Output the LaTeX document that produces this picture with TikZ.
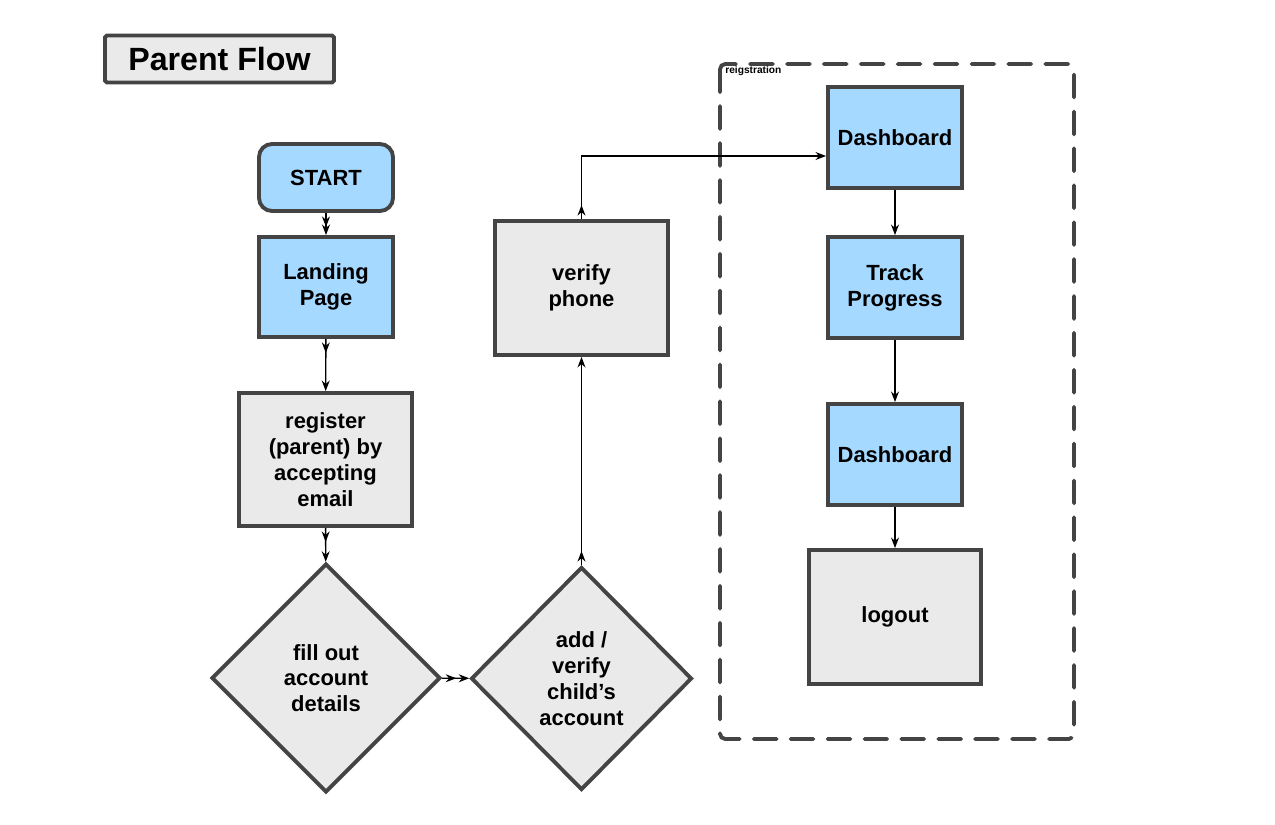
\documentclass[tikz,border=0pt]{standalone}
\usepackage{fontspec}
\setmainfont{Liberation Sans}
\usetikzlibrary{shapes.geometric,arrows.meta,decorations.markings}
\definecolor{boxblue}{HTML}{A6D9FF}
\definecolor{boxgray}{HTML}{EAEAEA}
\definecolor{edge}{HTML}{444444}
\begin{document}
\begin{tikzpicture}[x=0.02cm, y=-0.02cm]
% Styles
\tikzset{
  screen/.style={rectangle, draw=edge, line width=2.2pt, fill=boxblue, minimum width=2.68cm, minimum height=2.02cm, align=center, font=\bfseries\fontsize{12.5}{14.7}\selectfont},
  action/.style={rectangle, draw=edge, line width=2.2pt, fill=boxgray, minimum width=3.46cm, minimum height=2.68cm, align=center, font=\bfseries\fontsize{12.5}{14.7}\selectfont},
  choice/.style={diamond, draw=edge, line width=2.2pt, fill=boxgray, inner sep=0pt, minimum width=4.5cm, minimum height=4.5cm, align=center, font=\bfseries\fontsize{12.5}{14.7}\selectfont},
  arr/.style={-{Stealth[length=6pt,width=4.5pt]}, line width=0.8pt},
  dblarr/.style={arr, postaction={decorate}, decoration={markings, mark=at position 8pt with {\arrow{Stealth[length=6pt,width=4.5pt]}}}}
}
\useasboundingbox (0,0) rectangle (1275,825);

% Title
\node[rectangle, draw=edge, line width=2.2pt, fill=boxgray, rounded corners=1pt, minimum width=4.58cm, minimum height=0.94cm, font=\bfseries\fontsize{18.3}{20}\selectfont] (title) at (219.5,59) {Parent Flow};

% Registration group
\draw[edge, line width=2.2pt, dash pattern=on 13pt off 8pt, line cap=round, rounded corners=3pt] (720,64) rectangle (1074,739);
\node[anchor=north west, inner sep=0pt, font=\bfseries\fontsize{5.8}{7}\selectfont] (group) at (725,66) {reigstration};

% Left column
\node[screen, rounded corners=0.26cm, minimum height=1.34cm] (start) at (326,177.5) {START};
\node[screen, minimum height=2.0cm] (landing) at (326,287) {Landing\\Page};
\node[action, minimum height=2.66cm] (register) at (325.5,459.5) {register\\(parent) by\\accepting\\email};
\node[choice, minimum width=4.58cm, minimum height=4.58cm] (fill) at (326,678) {fill out\\account\\details};

% Middle column
\node[choice, minimum width=4.42cm, minimum height=4.46cm] (child) at (581.5,678.5) {add /\\verify\\child's\\account};
\node[action] (verify) at (581.5,288) {verify\\phone};

% Right column
\node[screen] (dash1) at (895,137.5) {Dashboard};
\node[screen] (track) at (895,287.5) {Track\\Progress};
\node[screen] (dash2) at (895,454.5) {Dashboard};
\node[action, minimum width=3.44cm] (logout) at (895,617) {logout};

% Connections
\draw[dblarr] (start) -- (landing);
\draw[dblarr] (landing) -- (register);
\draw[dblarr] (register) -- (fill);
\draw[dblarr] (fill) -- (child);
\draw[dblarr] (child) -- (verify);
\coordinate (bend) at (581.5,156);
\draw[dblarr] (verify.north) -- (bend) -- (bend -| dash1.west);

\draw[arr] (dash1) -- (track);
\draw[arr] (track) -- (dash2);
\draw[arr] (dash2) -- (logout);

\end{tikzpicture}
\end{document}
